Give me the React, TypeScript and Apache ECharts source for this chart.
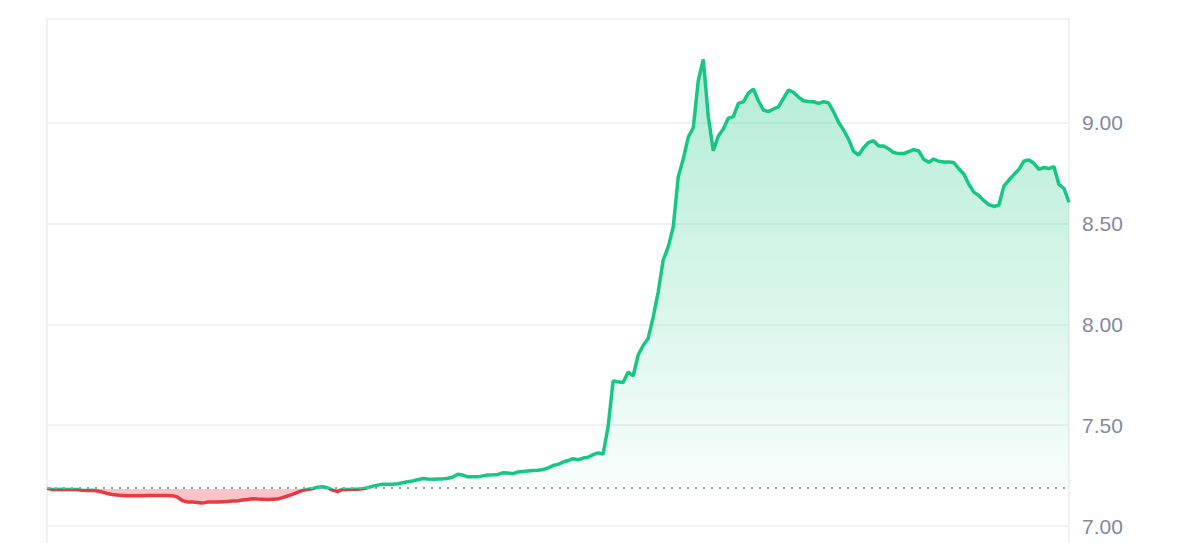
import React, { useEffect, useRef } from "react";
import * as echarts from "echarts";

const baseline = 7.186;
const tickLabels = ["7.00", "7.50", "8.00", "8.50", "9.00"];
const price = [
  7.187, 7.182, 7.182, 7.183, 7.182, 7.182, 7.181, 7.178, 7.176, 7.178,
  7.174, 7.169, 7.162, 7.157, 7.154, 7.152, 7.150, 7.150, 7.150, 7.151,
  7.152, 7.152, 7.152, 7.152, 7.152, 7.151, 7.144, 7.127, 7.120, 7.119,
  7.117, 7.114, 7.119, 7.120, 7.120, 7.121, 7.122, 7.124, 7.125, 7.129,
  7.132, 7.136, 7.134, 7.133, 7.132, 7.133, 7.134, 7.141, 7.149, 7.157,
  7.167, 7.177, 7.181, 7.186, 7.193, 7.195, 7.190, 7.178, 7.171, 7.183,
  7.182, 7.183, 7.183, 7.185, 7.190, 7.198, 7.203, 7.207, 7.207, 7.207,
  7.210, 7.215, 7.220, 7.224, 7.230, 7.236, 7.233, 7.232, 7.234, 7.234,
  7.237, 7.243, 7.257, 7.253, 7.244, 7.244, 7.244, 7.249, 7.253, 7.254,
  7.256, 7.264, 7.263, 7.260, 7.268, 7.271, 7.273, 7.275, 7.277, 7.280,
  7.288, 7.300, 7.306, 7.317, 7.325, 7.334, 7.329, 7.337, 7.341, 7.354,
  7.363, 7.357, 7.492, 7.719, 7.715, 7.712, 7.763, 7.744, 7.848, 7.895,
  7.930, 8.036, 8.161, 8.318, 8.384, 8.483, 8.731, 8.819, 8.928, 8.974,
  9.208, 9.313, 9.029, 8.860, 8.933, 8.968, 9.022, 9.029, 9.095, 9.102,
  9.146, 9.166, 9.108, 9.062, 9.054, 9.067, 9.077, 9.119, 9.161, 9.150,
  9.126, 9.108, 9.104, 9.103, 9.095, 9.103, 9.098, 9.054, 9.001, 8.963,
  8.918, 8.857, 8.839, 8.875, 8.902, 8.910, 8.884, 8.884, 8.869, 8.851,
  8.846, 8.846, 8.856, 8.866, 8.859, 8.818, 8.803, 8.819, 8.808, 8.804,
  8.804, 8.802, 8.771, 8.745, 8.694, 8.655, 8.638, 8.613, 8.593, 8.584,
  8.591, 8.685, 8.715, 8.742, 8.768, 8.809, 8.814, 8.798, 8.768, 8.777,
  8.772, 8.781, 8.693, 8.673, 8.605,
];
const categories = price.map((_, i) => String(i));

const GREEN = "#16c784";
const RED = "#ea3943";
const GRID = "#eff1f4";

export default function App() {
  const ref = useRef<HTMLDivElement>(null);
  useEffect(() => {
    if (!ref.current) return;
    const chart = echarts.init(ref.current, undefined, { renderer: "svg" });
    const maxV = Math.max(...price);
    const minV = Math.min(...price);
    const frac = Math.min(1, Math.max(0, (maxV - baseline) / (maxV - minV)));
    chart.setOption({
      animation: false,
      backgroundColor: "#ffffff",
      grid: {
        left: 47,
        right: 131,
        top: 19,
        bottom: 23,
        show: true,
        borderColor: GRID,
        borderWidth: 2,
        backgroundColor: "transparent",
      },
      xAxis: {
        type: "category",
        data: categories,
        boundaryGap: false,
        show: false,
      },
      yAxis: {
        type: "value",
        position: "right",
        min: 6.5,
        max: 9.513,
        interval: 0.5,
        axisLine: { show: false },
        axisTick: { show: false },
        splitLine: {
          show: true,
          lineStyle: {
            color: [GRID, GRID, GRID, GRID, GRID, GRID, "rgba(0,0,0,0)", GRID],
            width: 2,
          },
        },
        axisLabel: {
          margin: 13,
          fontSize: 21,
          color: "#808a9d",
          fontFamily: "'Liberation Sans', Arial, sans-serif",
          formatter: (v: number) => {
            const s = v.toFixed(2);
            return tickLabels.includes(s) && Math.abs(v - parseFloat(s)) < 1e-6 ? s : "";
          },
        },
      },
      series: [
        {
          type: "line",
          data: price,
          showSymbol: false,
          symbol: "none",
          lineStyle: {
            width: 3.5,
            color: new echarts.graphic.LinearGradient(0, 0, 0, 1, [
              { offset: 0, color: GREEN },
              { offset: frac, color: GREEN },
              { offset: frac, color: RED },
              { offset: 1, color: RED },
            ]),
          },
          areaStyle: {
            origin: baseline,
            opacity: 1,
            color: new echarts.graphic.LinearGradient(0, 0, 0, 1, [
              { offset: 0, color: "rgba(22,199,132,0.33)" },
              { offset: frac, color: "rgba(22,199,132,0.03)" },
              { offset: frac, color: "rgba(234,57,67,0.3)" },
              { offset: 1, color: "rgba(234,57,67,0.3)" },
            ]),
          },
          markLine: {
            silent: true,
            symbol: "none",
            label: { show: false },
            lineStyle: { type: [2, 6], color: "#9aa0a8", width: 2 },
            data: [{ yAxis: baseline }],
          },
        },
      ],
    });
    return () => chart.dispose();
  }, []);
  return (
    <div
      style={{
        position: "fixed",
        left: 0,
        top: 0,
        width: 1200,
        height: 543,
        overflow: "hidden",
        background: "#fff",
      }}
    >
      <div ref={ref} style={{ width: 1200, height: 650 }} />
    </div>
  );
}
